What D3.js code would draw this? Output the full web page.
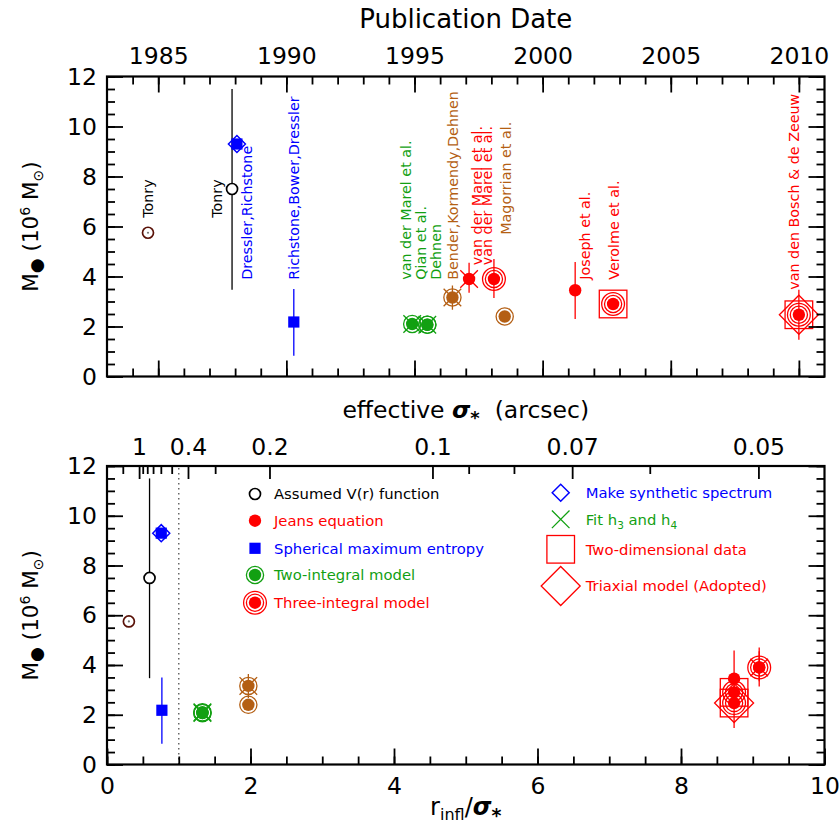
<!DOCTYPE html>
<html><head><meta charset="utf-8">
<script src="https://cdn.jsdelivr.net/npm/d3@7"></script>
<style>
body{margin:0;background:#fff}
text{font-family:"DejaVu Sans",sans-serif}
.tick text{font-size:23.5px;fill:#000}
.tick line{stroke:#000;stroke-width:1.8}
</style></head><body>
<svg id="chart" width="840" height="833"></svg>
<script>
// ---------------- data ----------------
const studies = ["Tonry","Tonry","Dressler,Richstone","Richstone,Bower,Dressler",
  "van der Marel et al.","Qian et al.","Dehnen","Bender,Kormendy,Dehnen",
  "van der Marel et al.","van der Marel et al.","Magorrian et al.","Joseph et al.",
  "Verolme et al.","van den Bosch & de Zeeuw"];
const pubYear = [1984.6,1987.88,1988.07,1990.29,1994.91,1995.5,1995.5,1996.48,1997.13,1998.1,1998.52,2001.27,2002.75,2010.0];
const massBH  = [5.75,7.5,9.3,2.18,2.1,2.07,2.07,3.16,3.9,3.9,2.4,3.45,2.9,2.47];
const massLo  = [null,3.47,null,0.83,null,null,null,2.67,3.35,3.14,null,2.3,null,1.47];
const massHi  = [null,11.5,null,3.5,null,null,null,3.64,4.55,4.7,null,4.58,null,3.47];
const rInflOverSigma = [0.305,0.593,0.756,0.765,1.33,1.33,1.33,1.97,9.09,9.09,1.97,8.74,8.74,8.74];
const method    = ["vr","vr","sme","sme","two","two","two","two","jeans","three","two","jeans","three","three"];
const synthSpec = [0,0,1,0,0,0,0,0,0,0,0,0,0,0];
const fitH3H4   = [0,0,0,0,1,1,0,1,1,0,0,0,0,0];
const twoDim    = [0,0,0,0,0,0,0,0,0,0,0,0,1,1];
const triaxial  = [0,0,0,0,0,0,0,0,0,0,0,0,0,1];
const group     = ["early","black","blue","blue","green","green","green","brown","red","red","brown","red","red","red"];
// label anchor (publication-date axis, mass axis)
const labelYear = [1984.61,1987.30,1988.47,1990.28,1994.65,1995.24,1995.82,1996.48,1997.45,1997.84,1998.56,2001.64,2002.77,2009.82];
const labelMass = [6.35,6.35,3.87,3.87,3.87,3.87,3.87,3.87,4.45,4.45,5.67,3.87,3.87,3.47];

const yearMajor = [1985,1990,1995,2000,2005,2010];
const yearMinor = d3.range(1984,2011);
const massMajor = [0,2,4,6,8,10,12];
const massMinor = d3.range(0,12.01,0.5);
const ratioMajor = [0,2,4,6,8,10];
const ratioMinor = d3.range(0,10.01,0.5);
const rInfl = 0.4543; // arcsec
const sigmaMinor = [2,0.9,0.8,0.7,0.6,0.5,0.3,0.09,0.08,0.06];
const sigmaMajor = [1,0.4,0.2,0.1,0.07,0.05];
const sigmaLabels = ["1","0.4","0.2","0.1","0.07","0.05"];

const legendLeftKinds = ["vr","jeans","sme","two","three"];
const legendLeftText  = ["Assumed V(r) function","Jeans equation","Spherical maximum entropy","Two-integral model","Three-integral model"];
const legendRightKinds = ["synth","h3h4","twoDim","triax"];
const legendRightText  = ["Make synthetic spectrum","Fit h|3| and h|4|","Two-dimensional data","Triaxial model (Adopted)"];

// ---------------- styles ----------------
const colors = {early:"#5a1208",black:"#000",blue:"#0000ff",green:"#12a012",brown:"#b45f14",red:"#ff0000"};
const legendLeftColor = ["#000","#ff0000","#0000ff","#12a012","#ff0000"];
const legendRightColor = ["#0000ff","#12a012","#ff0000","#ff0000"];

const svg = d3.select("#chart");
const L = 107, R = 824.5;
const xTop = d3.scaleLinear([1983,2011],[L,R]);
const yTop = d3.scaleLinear([0,12],[376.5,76.5]);
const xBot = d3.scaleLinear([0,10],[L,R]);
const yBot = d3.scaleLinear([0,12],[764.5,466]);

function marker(g, cx, cy, kind, color){
  const sw = 1.3;
  if(kind==="vr"){
    g.append("circle").attr("cx",cx).attr("cy",cy).attr("r",5.5).attr("fill","#fff").attr("stroke",color).attr("stroke-width",1.7);
  } else if(kind==="jeans"){
    g.append("circle").attr("cx",cx).attr("cy",cy).attr("r",6.2).attr("fill",color);
  } else if(kind==="sme"){
    g.append("rect").attr("x",cx-5.6).attr("y",cy-5.6).attr("width",11.2).attr("height",11.2).attr("fill",color);
  } else if(kind==="two" || kind==="three"){
    g.append("circle").attr("cx",cx).attr("cy",cy).attr("r",6.2).attr("fill",color);
    g.append("circle").attr("cx",cx).attr("cy",cy).attr("r",8.6).attr("fill","none").attr("stroke",color).attr("stroke-width",sw);
    if(kind==="three") g.append("circle").attr("cx",cx).attr("cy",cy).attr("r",11.4).attr("fill","none").attr("stroke",color).attr("stroke-width",sw);
  } else if(kind==="synth"){
    const h=8.5;
    g.append("path").attr("d",`M${cx-h},${cy}L${cx},${cy-h}L${cx+h},${cy}L${cx},${cy+h}Z`).attr("fill","none").attr("stroke",color).attr("stroke-width",1.5);
  } else if(kind==="h3h4"){
    const h=8.8;
    g.append("path").attr("d",`M${cx-h},${cy-h}L${cx+h},${cy+h}M${cx-h},${cy+h}L${cx+h},${cy-h}`).attr("fill","none").attr("stroke",color).attr("stroke-width",sw);
  } else if(kind==="twoDim"){
    const h=13.8;
    g.append("rect").attr("x",cx-h).attr("y",cy-h).attr("width",2*h).attr("height",2*h).attr("fill","none").attr("stroke",color).attr("stroke-width",sw);
  } else if(kind==="triax"){
    const h=19.5;
    g.append("path").attr("d",`M${cx-h},${cy}L${cx},${cy-h}L${cx+h},${cy}L${cx},${cy+h}Z`).attr("fill","none").attr("stroke",color).attr("stroke-width",sw);
  }
}

function drawPoints(g, xs, ys){
  const idx = d3.range(studies.length);
  idx.forEach(i=>{
    if(massLo[i]!=null){
      g.append("line").attr("x1",xs(i)).attr("x2",xs(i)).attr("y1",ys(massLo[i])).attr("y2",ys(massHi[i]))
        .attr("stroke",colors[group[i]]).attr("stroke-width",1.3);
    }
  });
  idx.forEach(i=>{
    const c = colors[group[i]], cx = xs(i), cy = ys(massBH[i]);
    marker(g,cx,cy,method[i],c);
    if(group[i]==="early") g.append("circle").attr("cx",cx).attr("cy",cy).attr("r",1.1).attr("fill","#777");
    if(synthSpec[i]) marker(g,cx,cy,"synth",c);
    if(fitH3H4[i]) marker(g,cx,cy,"h3h4",c);
    if(twoDim[i]) marker(g,cx,cy,"twoDim",c);
    if(triaxial[i]) marker(g,cx,cy,"triax",c);
  });
}

function frame(y0,y1){
  svg.append("rect").attr("x",L).attr("y",y1).attr("width",R-L).attr("height",y0-y1)
    .attr("fill","none").attr("stroke","#000").attr("stroke-width",2.2);
}
function ax(gen, tx, ty){
  const g = svg.append("g").attr("transform",`translate(${tx},${ty})`).call(gen);
  g.select(".domain").remove();
  return g;
}
function massAxes(y){
  ax(d3.axisLeft(y).tickValues(massMinor).tickSize(-8).tickFormat(""),L,0);
  ax(d3.axisLeft(y).tickValues(massMajor).tickSize(-16).tickPadding(10).tickFormat(d3.format("d")),L,0);
  ax(d3.axisRight(y).tickValues(massMinor).tickSize(-8).tickFormat(""),R,0);
  ax(d3.axisRight(y).tickValues(massMajor).tickSize(-16).tickFormat(""),R,0);
}
function massTitle(cy){
  const t = svg.append("text").attr("transform",`translate(38,${cy}) rotate(-90)`).attr("text-anchor","middle").attr("font-size",21.5);
  t.append("tspan").text("M");
  t.append("tspan").attr("font-size",17).attr("dy",4).text("●");
  t.append("tspan").attr("dy",-4).text(" (10");
  t.append("tspan").attr("font-size",14).attr("dy",-8).text("6");
  t.append("tspan").attr("dy",8).text(" M");
  t.append("tspan").attr("font-size",14).attr("dy",5).text("⊙");
  t.append("tspan").attr("dy",-5).text(")");
}

// ---------------- top panel ----------------
const gTop = svg.append("g");
drawPoints(gTop, i=>xTop(pubYear[i]), yTop);
studies.forEach((s,i)=>{
  const c = group[i]==="early" ? "#000" : colors[group[i]];
  svg.append("text").attr("transform",`translate(${xTop(labelYear[i])},${yTop(labelMass[i])}) rotate(-90)`)
    .attr("dy","0.36em").attr("font-size",14.3).attr("fill",c).text(s);
});
frame(yTop(0),yTop(12));
massAxes(yTop);
ax(d3.axisTop(xTop).tickValues(yearMinor).tickSize(-8).tickFormat(""),0,yTop(12));
ax(d3.axisTop(xTop).tickValues(yearMajor).tickSize(-16).tickPadding(13).tickFormat(d3.format("d")),0,yTop(12));
ax(d3.axisBottom(xTop).tickValues(yearMinor).tickSize(-8).tickFormat(""),0,yTop(0));
ax(d3.axisBottom(xTop).tickValues(yearMajor).tickSize(-16).tickFormat(""),0,yTop(0));
svg.append("text").attr("x",(L+R)/2).attr("y",28).attr("text-anchor","middle").attr("font-size",26).text("Publication Date");
massTitle((yTop(0)+yTop(12))/2);

// ---------------- bottom panel ----------------
svg.append("line").attr("x1",xBot(1)).attr("x2",xBot(1)).attr("y1",yBot(0)).attr("y2",yBot(12))
  .attr("stroke","#666").attr("stroke-width",1.5).attr("stroke-dasharray","1.5,3.5");
const gBot = svg.append("g");
drawPoints(gBot, i=>xBot(rInflOverSigma[i]), yBot);
frame(yBot(0),yBot(12));
massAxes(yBot);
ax(d3.axisBottom(xBot).tickValues(ratioMinor).tickSize(-8).tickFormat(""),0,yBot(0));
ax(d3.axisBottom(xBot).tickValues(ratioMajor).tickSize(-16).tickPadding(13).tickFormat(d3.format("d")),0,yBot(0));
// sigma axis (top of lower panel), sigma = rInfl / (r/sigma)
const sigPos = s => xBot(rInfl/s);
const sg = svg.append("g");
sigmaMinor.forEach(s=>sg.append("line").attr("x1",sigPos(s)).attr("x2",sigPos(s)).attr("y1",yBot(12)).attr("y2",yBot(12)+8).attr("stroke","#000").attr("stroke-width",1.8));
sigmaMajor.forEach((s,k)=>{
  sg.append("line").attr("x1",sigPos(s)).attr("x2",sigPos(s)).attr("y1",yBot(12)).attr("y2",yBot(12)+13).attr("stroke","#000").attr("stroke-width",1.8);
  sg.append("text").attr("x",sigPos(s)).attr("y",yBot(12)-11).attr("text-anchor","middle").attr("font-size",23.5).text(sigmaLabels[k]);
});
const et = svg.append("text").attr("x",(L+R)/2).attr("y",418).attr("text-anchor","middle").attr("font-size",23.5);
et.append("tspan").text("effective ");
et.append("tspan").attr("font-weight","bold").attr("font-style","italic").text("σ");
et.append("tspan").attr("font-size",18).attr("font-weight","bold").attr("dy",6).text("*");
et.append("tspan").attr("dy",-6).text("\u00a0\u00a0(arcsec)");
const xt = svg.append("text").attr("x",(L+R)/2).attr("y",815).attr("text-anchor","middle").attr("font-size",24);
xt.append("tspan").text("r");
xt.append("tspan").attr("font-size",16).attr("dy",5).text("infl");
xt.append("tspan").attr("dy",-5).text("/");
xt.append("tspan").attr("font-weight","bold").attr("font-style","italic").text("σ");
xt.append("tspan").attr("font-size",19).attr("font-weight","bold").attr("dy",7).text("*");
massTitle((yBot(0)+yBot(12))/2);

// legend
const lg = svg.append("g");
const leftRowsY = [494,520.7,548.3,575,602.7];
legendLeftKinds.forEach((k,i)=>{
  marker(lg,255,leftRowsY[i],k,legendLeftColor[i]);
  lg.append("text").attr("x",274).attr("y",leftRowsY[i]).attr("dy","0.36em").attr("font-size",14.8).attr("fill",legendLeftColor[i]).text(legendLeftText[i]);
});
const rightRowsY = [492.7,519.3,549.3,586];
legendRightKinds.forEach((k,i)=>{
  marker(lg,560.7,rightRowsY[i],k,legendRightColor[i]);
  const t = lg.append("text").attr("x",585.7).attr("y",rightRowsY[i]).attr("dy","0.36em").attr("font-size",14.8).attr("fill",legendRightColor[i]);
  legendRightText[i].split("|").forEach((p,j)=>{
    const ts = t.append("tspan").text(p);
    if(j%2===1){ ts.attr("font-size",10.5).attr("dy",4); }
    else if(j>0){ ts.attr("dy",-4); }
  });
});
</script>
</body></html>
